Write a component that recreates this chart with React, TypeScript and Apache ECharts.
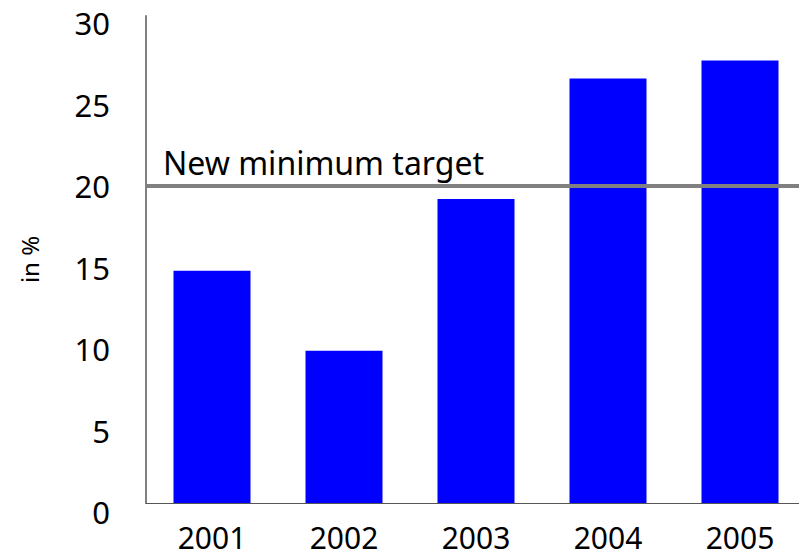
import React, { useEffect, useRef } from "react";
import * as echarts from "echarts";

const years = ["2001", "2002", "2003", "2004", "2005"];
const shares = [14.8, 9.9, 19.2, 26.6, 27.7];
const targetValue = 20;
const targetLabel = "New minimum target";
const yAxisName = "in %";
const yMin = 0;
const yMax = 30;
const yInterval = 5;

// layout (pixels)
const W = 799;
const H = 558;
const LEFT = 146;
const GRID_W = 660;
const LABEL_TOP = 23; // pixel of value yMax on label scale
const LABEL_ZERO = 512; // pixel of value yMin on label scale
const AXIS_TOP = 16;
const AXIS_BOTTOM = 503;
const PX = (LABEL_ZERO - LABEL_TOP) / (yMax - yMin);
const barMin = yMin + (LABEL_ZERO - AXIS_BOTTOM) / PX;
const barMax = yMin + (LABEL_ZERO - AXIS_TOP) / PX;

const FONT = "Noto Sans";

export default function App() {
  const ref = useRef<HTMLDivElement>(null);
  useEffect(() => {
    if (!ref.current) return;
    const chart = echarts.init(ref.current, null, { renderer: "svg" });
    chart.setOption({
      animation: false,
      backgroundColor: "#ffffff",
      textStyle: { fontFamily: FONT },
      grid: [
        {
          left: LEFT,
          width: GRID_W,
          top: LABEL_TOP,
          height: LABEL_ZERO - LABEL_TOP,
          outerBoundsMode: "none",
          containLabel: false,
        },
        {
          left: LEFT,
          width: GRID_W,
          top: AXIS_TOP,
          height: AXIS_BOTTOM - AXIS_TOP,
          outerBoundsMode: "none",
          containLabel: false,
        },
      ],
      xAxis: [
        { type: "category", data: years, gridIndex: 0, show: false },
        {
          type: "category",
          data: years,
          gridIndex: 1,
          axisLine: { lineStyle: { color: "#555555", width: 1 } },
          axisTick: { show: false },
          axisLabel: {
            color: "#000",
            fontSize: 30,
            lineHeight: 30,
            margin: 19,
            fontFamily: FONT,
          },
        },
      ],
      yAxis: [
        {
          type: "value",
          gridIndex: 0,
          min: yMin,
          max: yMax,
          interval: yInterval,
          axisLine: { show: false },
          axisTick: { show: false },
          splitLine: { show: false },
          axisLabel: { color: "#000", fontSize: 31, margin: 36, fontFamily: FONT },
        },
        {
          type: "value",
          gridIndex: 1,
          min: barMin,
          max: barMax,
          axisLine: { show: true, lineStyle: { color: "#808080", width: 2 } },
          axisTick: { show: false },
          splitLine: { show: false },
          axisLabel: { show: false },
          name: yAxisName,
          nameLocation: "middle",
          nameRotate: 90,
          nameGap: 105,
          nameTextStyle: { color: "#000", fontSize: 24, fontFamily: FONT },
        },
      ],
      series: [
        {
          type: "bar",
          xAxisIndex: 1,
          yAxisIndex: 1,
          data: shares,
          barWidth: 77,
          itemStyle: { color: "#0000ff" },
          clip: true,
          markLine: {
            silent: true,
            symbol: "none",
            z: 10,
            lineStyle: { color: "#808080", width: 4, type: "solid" },
            label: {
              show: true,
              position: "insideStartTop",
              formatter: targetLabel,
              color: "#000",
              fontSize: 32,
              fontFamily: FONT,
              distance: [17, 8],
            },
            data: [{ yAxis: targetValue }],
          },
        },
      ],
    });
    return () => chart.dispose();
  }, []);
  return (
    <div
      ref={ref}
      style={{ position: "fixed", left: 0, top: 0, width: W, height: H }}
    />
  );
}
